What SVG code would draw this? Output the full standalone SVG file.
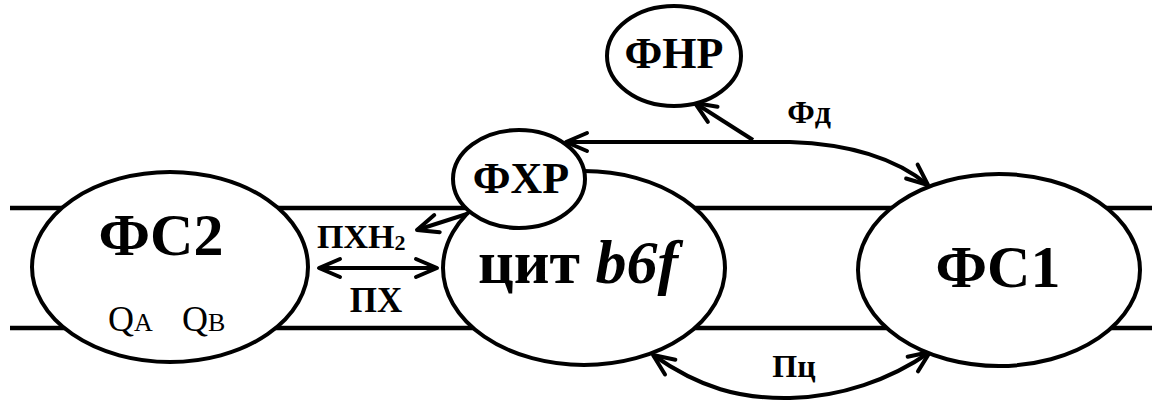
<svg xmlns="http://www.w3.org/2000/svg" width="1152" height="403" viewBox="0 0 1152 403">
<style>
.mem{stroke:#000;stroke-width:4.5;fill:none}
.node{fill:#fff;stroke:#000;stroke-width:4}
.t{font-family:"Liberation Serif","Times New Roman",serif;font-weight:bold;fill:#000}
.r{font-family:"Liberation Serif","Times New Roman",serif;fill:#000}
.c{fill:none;stroke:#000;stroke-width:4}
</style>
<defs>
<marker id="ah" viewBox="0 0 26 22" refX="23" refY="11" markerWidth="26" markerHeight="22" markerUnits="userSpaceOnUse" orient="auto-start-reverse" overflow="visible">
<path d="M2,2 L23,11 L2,20" fill="none" stroke="#000" stroke-width="4" stroke-linecap="round" stroke-linejoin="round"/>
</marker>
</defs>
<g id="membrane">
<line class="mem" x1="10" y1="208" x2="1152" y2="208"/>
<line class="mem" x1="10" y1="328" x2="1152" y2="328"/>
</g>
<g id="connectors">
<path class="c" d="M566,142 L790,142 Q880,145 928,185" marker-start="url(#ah)" marker-end="url(#ah)"/>
<path class="c" d="M753,140 L695,103" marker-end="url(#ah)"/>
<path class="c" d="M653,355 C700,388 740,399 790,398 C840,397 890,380 930,352" marker-start="url(#ah)" marker-end="url(#ah)"/>
<path class="c" d="M319,268 L437,268" marker-start="url(#ah)" marker-end="url(#ah)"/>
<path class="c" d="M470,213 L417,230" marker-end="url(#ah)"/>
</g>
<g id="ps2">
<ellipse class="node" cx="170" cy="267" rx="138" ry="95"/>
<text class="t" x="161" y="255" font-size="60" text-anchor="middle">ФС2</text>
<text class="r" x="108" y="331" font-size="36">Q<tspan font-size="26">A</tspan></text>
<text class="r" x="182" y="331" font-size="36">Q<tspan font-size="26">B</tspan></text>
</g>
<g id="b6f">
<ellipse class="node" cx="584" cy="268" rx="141" ry="97"/>
<text class="t" x="478" y="283" font-size="62">цит <tspan font-style="italic">b6f</tspan></text>
</g>
<g id="fhr">
<ellipse class="node" cx="519" cy="179" rx="66" ry="49"/>
<text class="t" x="521" y="193" font-size="44" text-anchor="middle">ФХР</text>
</g>
<g id="fnr">
<ellipse class="node" cx="674" cy="56" rx="67" ry="50"/>
<text class="t" x="674" y="68" font-size="44" text-anchor="middle">ФНР</text>
</g>
<g id="ps1">
<ellipse class="node" cx="999" cy="270" rx="141" ry="96"/>
<text class="t" x="998" y="287" font-size="60" text-anchor="middle">ФС1</text>
</g>
<g id="labels">
<text class="t" x="317" y="248" font-size="34">ПХН<tspan font-size="22" dy="2">2</tspan></text>
<text class="t" x="376" y="312" font-size="35" text-anchor="middle">ПХ</text>
<text class="t" x="809" y="123" font-size="32" text-anchor="middle">Фд</text>
<text class="t" x="794" y="377" font-size="32" text-anchor="middle">Пц</text>
</g>
</svg>
